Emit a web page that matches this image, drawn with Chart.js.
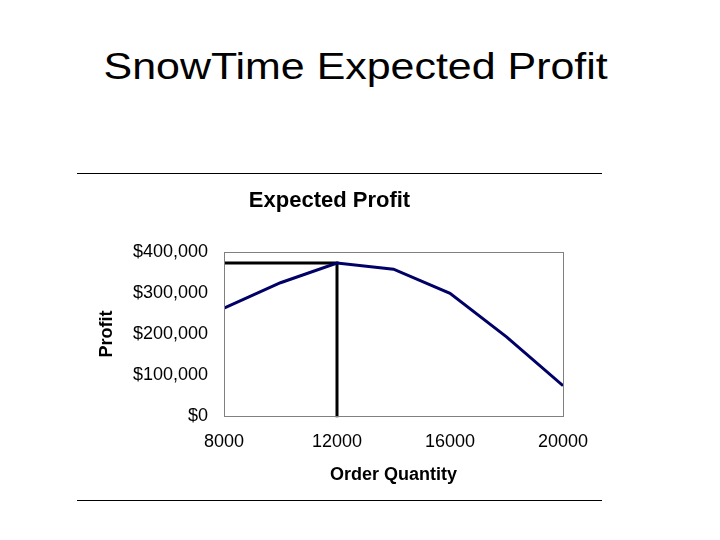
<!DOCTYPE html>
<html>
<head>
<meta charset="utf-8">
<script src="https://cdn.jsdelivr.net/npm/chart.js@4/dist/chart.umd.min.js"></script>
<style>
  html, body { margin: 0; padding: 0; background: #fff; }
  #page { position: relative; width: 720px; height: 540px; overflow: hidden; }
  #heading {
    position: absolute; left: -5px; top: 48px; width: 720px;
    text-align: center; font-family: "Liberation Sans", Arial, sans-serif;
    font-size: 37px; line-height: 37px; color: #000;
    transform: scaleX(1.16); transform-origin: 356px 0;
  }
  .rule { position: absolute; left: 77px; width: 525px; height: 1px; background: #000; }
  #chart { position: absolute; left: 0; top: 0; }
</style>
</head>
<body>
<div id="page">
  <div id="heading">SnowTime Expected Profit</div>
  <div class="rule" style="top:173px"></div>
  <div class="rule" style="top:500px"></div>
  <canvas id="chart" width="720" height="540"></canvas>
</div>
<script>
document.addEventListener('DOMContentLoaded', () => {
    // order quantities and expected profit
    const orderQty = [8000, 10000, 12000, 14000, 16000, 18000, 20000];
    const profit = [263000, 325000, 373000, 358000, 299000, 193000, 74000];

    // optimum marked with the black guide lines
    const bestQty = 12000;
    const bestProfit = 373000;

    const xTicks = [8000, 12000, 16000, 20000];
    const yTicks = [0, 100000, 200000, 300000, 400000];

    const font = "'Liberation Sans', Arial, sans-serif";

    // gray box round the plot area
    const frame = {
        id: 'frame',
        afterDatasetsDraw(chart) {
            const a = chart.chartArea;
            const ctx = chart.ctx;
            ctx.save();
            ctx.strokeStyle = '#808080';
            ctx.lineWidth = 1;
            ctx.strokeRect(Math.round(a.left) + 0.5, Math.round(a.top) + 0.5,
                Math.round(a.right - a.left), Math.round(a.bottom - a.top));
            ctx.restore();
        }
    };

    const ctx = document.getElementById('chart').getContext('2d');
    new Chart(ctx, {
        type: 'line',
        data: {
            datasets: [
                {
                    label: 'Expected Profit',
                    data: orderQty.map((q, i) => ({ x: q, y: profit[i] })),
                    borderColor: '#000066',
                    borderWidth: 3,
                    pointRadius: 0,
                    tension: 0
                },
                {
                    label: 'Optimum',
                    data: [
                        { x: orderQty[0], y: bestProfit },
                        { x: bestQty, y: bestProfit },
                        { x: bestQty, y: -3000 }
                    ],
                    borderColor: '#000000',
                    borderWidth: 3,
                    pointRadius: 0,
                    tension: 0,
                    clip: false
                }
            ]
        },
        options: {
            responsive: false,
            animation: false,
            layout: { padding: { left: 96, right: 157, top: 188, bottom: 50 } },
            plugins: {
                legend: { display: false },
                tooltip: { enabled: false },
                title: {
                    display: true,
                    text: 'Expected Profit',
                    color: '#000',
                    font: { family: font, size: 22, weight: 'bold' },
                    padding: { top: 0, bottom: 37.6 }
                }
            },
            scales: {
                x: {
                    type: 'linear',
                    min: xTicks[0],
                    max: xTicks[xTicks.length - 1],
                    afterBuildTicks: s => { s.ticks = xTicks.map(v => ({ value: v })); },
                    afterFit: s => { s.height = 74; },
                    grid: { display: false, drawTicks: false },
                    border: { display: false },
                    ticks: {
                        color: '#000',
                        font: { family: font, size: 18 },
                        padding: 15,
                        maxRotation: 0,
                        callback: v => String(v)
                    },
                    title: {
                        display: true,
                        text: 'Order Quantity',
                        color: '#000',
                        font: { family: font, size: 18, weight: 'bold' },
                        padding: { top: 0, bottom: 4 }
                    }
                },
                y: {
                    min: 0,
                    max: 400000,
                    afterBuildTicks: s => { s.ticks = yTicks.map(v => ({ value: v })); },
                    afterFit: s => { s.width = 128; },
                    grid: { display: false, drawTicks: false },
                    border: { display: false },
                    ticks: {
                        color: '#000',
                        font: { family: font, size: 18 },
                        padding: 16,
                        callback: v => '$' + v.toLocaleString('en-US')
                    },
                    title: {
                        display: true,
                        text: 'Profit',
                        color: '#000',
                        font: { family: font, size: 18, weight: 'bold' },
                        padding: { top: 0, bottom: 0 }
                    }
                }
            }
        },
        plugins: [frame]
    });
});
</script>
</body>
</html>
